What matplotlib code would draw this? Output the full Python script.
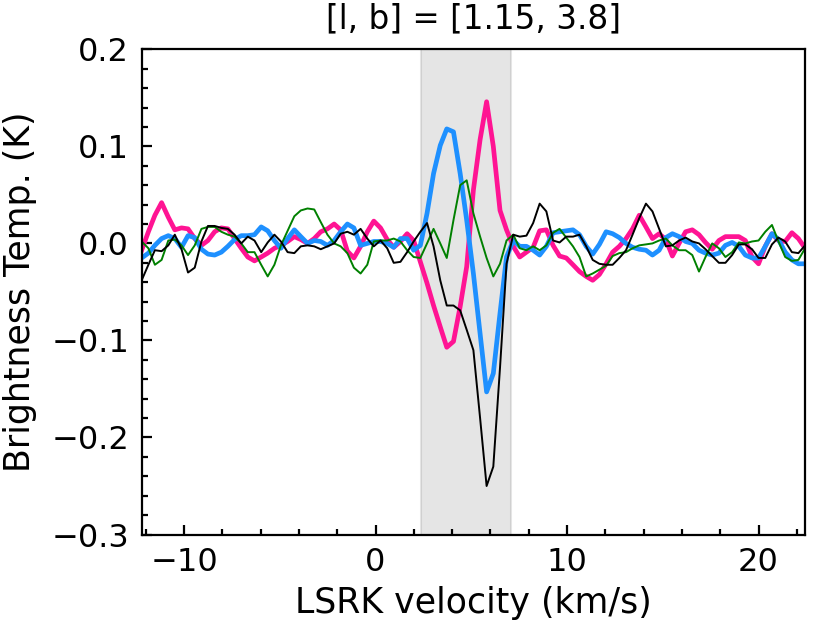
import matplotlib
matplotlib.use("Agg")
import matplotlib.pyplot as plt
from matplotlib.ticker import MultipleLocator, AutoMinorLocator

# velocity channels (km/s)
velocity = [
    -12.21, -11.86, -11.52, -11.17, -10.82, -10.48, -10.13, -9.79, -9.44, -9.09,
    -8.75, -8.40, -8.05, -7.71, -7.36, -7.01, -6.67, -6.32, -5.97, -5.63,
    -5.28, -4.94, -4.59, -4.24, -3.90, -3.55, -3.20, -2.86, -2.51, -2.16,
    -1.82, -1.47, -1.13, -0.78, -0.43, -0.09, 0.26, 0.61, 0.95, 1.30,
    1.65, 1.99, 2.34, 2.69, 3.03, 3.38, 3.72, 4.07, 4.42, 4.76,
    5.11, 5.46, 5.80, 6.15, 6.50, 6.84, 7.19, 7.53, 7.88, 8.23,
    8.57, 8.92, 9.27, 9.61, 9.96, 10.31, 10.65, 11.00, 11.34, 11.69,
    12.04, 12.38, 12.73, 13.08, 13.42, 13.77, 14.12, 14.46, 14.81, 15.16,
    15.50, 15.85, 16.19, 16.54, 16.89, 17.23, 17.58, 17.93, 18.27, 18.62,
    18.97, 19.31, 19.66, 20.00, 20.35, 20.70, 21.04, 21.39, 21.74, 22.08,
    22.43,
]

# brightness temperature (K) of the four spectra
pink_tb = [
    -0.007, 0.012, 0.029, 0.042, 0.027, 0.014, 0.016, 0.015, 0.005, -0.002,
    0.003, 0.012, 0.016, 0.015, 0.005, -0.005, -0.014, -0.018, -0.014, -0.010,
    -0.005, -0.002, 0.002, 0.007, 0.004, 0.000, 0.005, 0.012, 0.015, 0.020,
    0.014, -0.008, -0.015, -0.003, 0.012, 0.023, 0.016, 0.004, -0.004, 0.002,
    0.010, 0.003, -0.019, -0.041, -0.064, -0.086, -0.107, -0.101, -0.065, -0.024,
    0.055, 0.107, 0.146, 0.100, 0.034, 0.014, -0.003, -0.014, -0.009, -0.004,
    0.013, 0.014, -0.002, -0.013, -0.015, -0.022, -0.029, -0.034, -0.038, -0.032,
    -0.021, -0.009, -0.003, 0.005, 0.015, 0.029, 0.017, 0.005, 0.010, 0.004,
    -0.013, 0.000, 0.012, 0.014, 0.009, 0.001, -0.006, 0.003, 0.007, 0.007,
    0.007, 0.003, -0.014, -0.021, -0.003, 0.010, 0.003, 0.002, 0.011, 0.005,
    -0.005,
]
blue_tb = [
    -0.015, -0.010, -0.002, 0.005, 0.008, 0.005, -0.004, 0.008, 0.006, -0.006,
    -0.011, -0.012, -0.009, -0.003, 0.004, 0.008, 0.008, 0.009, 0.017, 0.013,
    0.003, -0.005, 0.005, 0.014, 0.007, 0.000, 0.003, 0.002, -0.002, 0.003,
    0.012, 0.020, 0.016, -0.002, 0.000, 0.002, 0.002, 0.000, -0.004, 0.005,
    0.005, -0.007, -0.002, 0.031, 0.072, 0.101, 0.118, 0.115, 0.072, 0.024,
    -0.031, -0.093, -0.153, -0.134, -0.072, -0.014, 0.003, -0.003, -0.003, -0.007,
    -0.012, -0.003, 0.011, 0.012, 0.013, 0.014, 0.009, -0.003, -0.011, -0.001,
    0.012, 0.010, 0.006, 0.000, -0.004, -0.006, -0.007, -0.012, -0.007, 0.006,
    0.010, 0.007, 0.002, 0.000, -0.007, -0.010, -0.012, -0.010, -0.002, 0.001,
    -0.003, -0.012, -0.015, -0.015, -0.003, 0.010, 0.004, -0.009, -0.017, -0.021,
    -0.021,
]
green_tb = [
    0.002, -0.005, -0.022, -0.017, 0.003, 0.004, -0.002, -0.012, -0.002, 0.015,
    0.017, 0.017, 0.012, 0.009, 0.007, 0.000, -0.009, -0.009, -0.022, -0.034,
    -0.022, -0.002, 0.013, 0.028, 0.034, 0.036, 0.035, 0.022, 0.009, 0.000,
    -0.003, -0.010, -0.025, -0.031, -0.022, 0.002, 0.003, 0.003, 0.005, 0.002,
    -0.007, -0.014, -0.015, 0.000, 0.015, 0.000, -0.015, 0.024, 0.060, 0.065,
    0.031, 0.007, -0.015, -0.034, -0.021, 0.003, 0.009, -0.005, -0.007, -0.003,
    -0.007, -0.002, 0.011, 0.015, 0.006, -0.003, -0.014, -0.034, -0.031, -0.027,
    -0.023, -0.013, -0.010, -0.009, -0.005, -0.002, -0.001, 0.000, 0.003, 0.005,
    -0.002, -0.007, -0.007, -0.012, -0.029, -0.014, 0.000, -0.005, -0.014, -0.009,
    0.001, 0.000, 0.002, 0.003, 0.012, 0.019, 0.002, -0.014, -0.018, -0.017,
    -0.005,
]
black_tb = [
    -0.038, -0.022, -0.007, -0.008, -0.002, 0.009, -0.006, -0.030, -0.025, 0.002,
    0.018, 0.018, 0.016, 0.015, 0.009, 0.000, 0.007, 0.003, -0.009, 0.001,
    0.009, 0.002, -0.009, -0.010, -0.003, -0.002, -0.003, -0.006, -0.003, 0.000,
    0.010, 0.012, 0.009, 0.015, 0.005, -0.003, 0.003, -0.005, -0.020, -0.019,
    -0.009, 0.002, 0.012, 0.021, -0.003, -0.038, -0.064, -0.064, -0.069, -0.089,
    -0.110, -0.180, -0.250, -0.230, -0.128, -0.021, 0.009, 0.007, 0.008, 0.021,
    0.041, 0.033, 0.003, 0.001, 0.007, 0.007, 0.009, -0.003, -0.017, -0.021,
    -0.022, -0.022, -0.015, -0.007, 0.009, 0.026, 0.041, 0.033, 0.015, -0.003,
    -0.002, 0.003, 0.006, 0.002, 0.000, -0.006, -0.013, -0.020, -0.020, -0.012,
    -0.001, -0.001, -0.006, -0.015, -0.015, -0.001, 0.006, 0.002, -0.009, -0.010,
    -0.002,
]

# velocity window that is shaded
window = (2.36, 7.06)

plt.rcParams['font.family'] = ['DejaVu Sans']
plt.rcParams['font.size'] = 23

fig = plt.figure(figsize=(8.3, 6.23), dpi=100)
ax = fig.add_axes([0.1707, 0.142, 0.7993, 0.7788])

ax.axvspan(window[0], window[1], color='gray', alpha=0.2, lw=1.5)

ax.plot(velocity, pink_tb, color='deeppink', lw=3.4)
ax.plot(velocity, blue_tb, color='dodgerblue', lw=3.4)
ax.plot(velocity, green_tb, color='green', lw=1.4)
ax.plot(velocity, black_tb, color='black', lw=1.4)

ax.set_xlim(velocity[0], velocity[-1])
ax.set_ylim(-0.3, 0.2)
ax.xaxis.set_major_locator(MultipleLocator(10))
ax.xaxis.set_minor_locator(AutoMinorLocator(5))
ax.yaxis.set_major_locator(MultipleLocator(0.1))
ax.yaxis.set_minor_locator(AutoMinorLocator(5))
ax.tick_params(which='both', direction='in', width=1.6, pad=9)
ax.tick_params(which='major', length=7)
ax.tick_params(which='minor', length=4)
for sp in ax.spines.values():
    sp.set_linewidth(1.6)

ax.set_title('[l, b] = [1.15, 3.8]', fontsize=23.5, pad=15)
ax.set_xlabel('LSRK velocity (km/s)', fontsize=25, labelpad=6)
ax.set_ylabel('Brightness Temp. (K)', fontsize=25, labelpad=10)

fig.savefig('out.png', dpi=100)
